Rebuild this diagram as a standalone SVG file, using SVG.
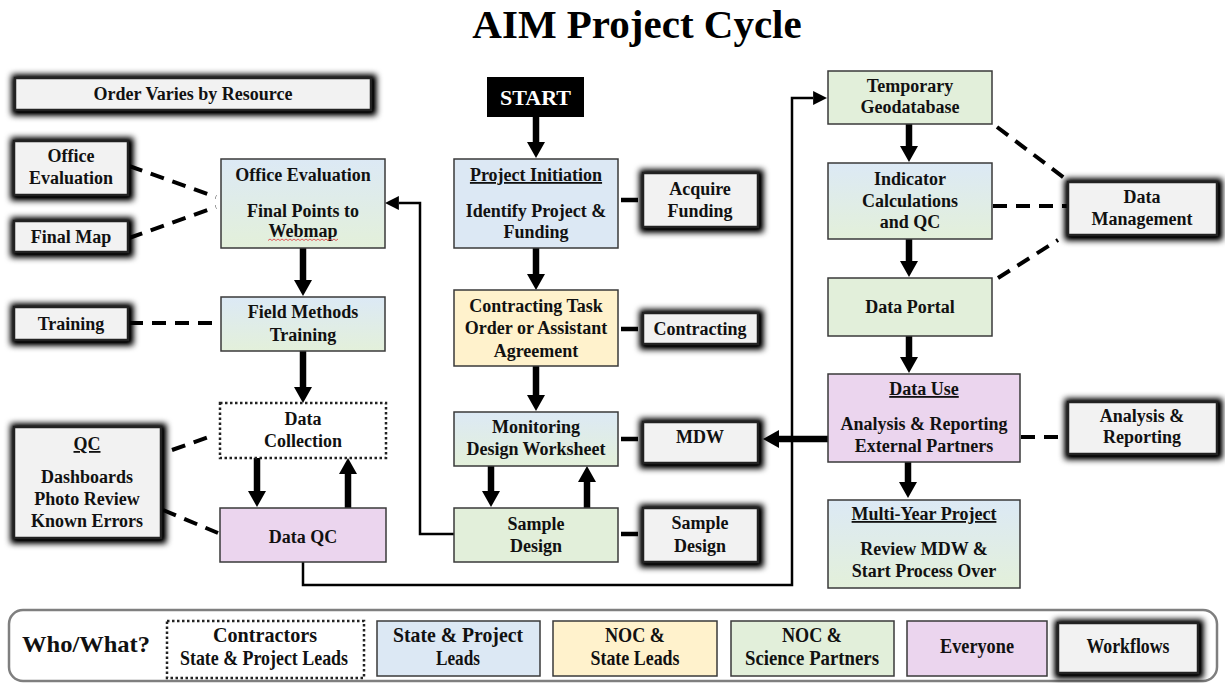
<svg xmlns="http://www.w3.org/2000/svg" width="1225" height="683" viewBox="0 0 1225 683">
<defs>
<linearGradient id="bg" x1="0" y1="0" x2="0" y2="1">
<stop offset="0" stop-color="#dce9f5"/>
<stop offset="1" stop-color="#e3f0da"/>
</linearGradient>
<filter id="glow" x="-30%" y="-40%" width="160%" height="180%">
<feMorphology in="SourceAlpha" operator="dilate" radius="2.5" result="d"/>
<feGaussianBlur in="d" stdDeviation="3"/>
<feOffset dx="1" dy="1" result="b"/>
<feComponentTransfer><feFuncA type="linear" slope="1.2"/></feComponentTransfer>
<feMerge><feMergeNode/><feMergeNode in="SourceGraphic"/></feMerge>
</filter>
<marker id="ah" markerUnits="userSpaceOnUse" markerWidth="16" markerHeight="18" refX="0" refY="9" orient="auto">
<path d="M0,0 L16,9 L0,18 z" fill="#000"/>
</marker>
<marker id="ahs" markerUnits="userSpaceOnUse" markerWidth="14" markerHeight="14" refX="0" refY="7" orient="auto">
<path d="M0,0 L14,7 L0,14 z" fill="#000"/>
</marker>
<style>
text{font-family:"Liberation Serif","Times New Roman",serif;font-weight:bold;fill:#111;text-anchor:middle;font-size:18px}
.title{font-size:41px;fill:#000}
.u{text-decoration:underline}
.box{stroke:#3a3a3a;stroke-width:1.5}
.blue{fill:#dce8f4}
.grad{fill:url(#bg)}
.yel{fill:#fff2cc}
.grn{fill:#e2efda}
.pur{fill:#ebd5ee}
.dot{fill:#fff;stroke:#222;stroke-width:2.5;stroke-dasharray:2.5 2.5}
.wf{fill:#f2f2f2;stroke:#222;stroke-width:2.5;filter:url(#glow)}
.thick{stroke:#000;stroke-width:6.5;fill:none;marker-end:url(#ah)}
.thin{stroke:#000;stroke-width:2.5;fill:none;marker-end:url(#ahs)}
.thinl{stroke:#000;stroke-width:2.5;fill:none}
.dash{stroke:#000;stroke-width:4;stroke-dasharray:14 9;fill:none}
.solid{stroke:#000;stroke-width:4.5;fill:none}
.leg{font-size:21px}
</style>
</defs>
<rect width="1225" height="683" fill="#fff"/>
<text class="title" x="637" y="38">AIM Project Cycle</text>

<g id="connectors">
<path class="thinl" d="M303,562 V585 H792 V98 H813"/>
<path class="thin" d="M813,98 H813.1"/>
<path class="thinl" d="M454,534 H420 V203 H399"/>
<path class="thin" d="M399,203 H398.9"/>
<line class="thick" x1="536" y1="117" x2="536" y2="142"/>
<line class="thick" x1="536" y1="248" x2="536" y2="274"/>
<line class="thick" x1="536" y1="366" x2="536" y2="395"/>
<line class="thick" x1="491" y1="466" x2="491" y2="491"/>
<line class="thick" x1="587" y1="508" x2="587" y2="482"/>
<line class="thick" x1="303" y1="248" x2="303" y2="280"/>
<line class="thick" x1="303" y1="351" x2="303" y2="387"/>
<line class="thick" x1="257" y1="458" x2="257" y2="491"/>
<line class="thick" x1="348" y1="508" x2="348" y2="474"/>
<line class="thick" x1="909" y1="124" x2="909" y2="146"/>
<line class="thick" x1="909" y1="239" x2="909" y2="261"/>
<line class="thick" x1="909" y1="336" x2="909" y2="357"/>
<line class="thick" x1="908" y1="462" x2="908" y2="482"/>
<line class="thick" x1="828" y1="439" x2="779" y2="439"/>
<line class="dash" x1="129" y1="166" x2="216" y2="197"/>
<line class="dash" x1="129" y1="238" x2="216" y2="207"/>
<line class="dash" x1="129" y1="323" x2="220" y2="323"/>
<line class="dash" x1="172" y1="450" x2="214" y2="435"/>
<line class="dash" x1="163" y1="510" x2="218" y2="533"/>
<line class="dash" x1="997" y1="127" x2="1067" y2="180"/>
<line class="dash" x1="993" y1="206" x2="1067" y2="206"/>
<line class="dash" x1="998" y1="278" x2="1058" y2="240"/>
<line class="dash" x1="1021" y1="437" x2="1067" y2="437"/>
<line class="solid" x1="621" y1="200" x2="638" y2="200"/>
<line class="solid" x1="621" y1="329" x2="638" y2="329"/>
<line class="solid" x1="621" y1="439" x2="638" y2="439"/>
<line class="solid" x1="621" y1="534" x2="638" y2="534"/>
</g>

<g id="order-varies"><rect class="wf" x="15" y="78" width="356" height="32"/><text x="193" y="100">Order Varies by Resource</text></g>
<g id="wf-office-evaluation"><rect class="wf" x="14" y="141" width="114" height="54"/><text x="71" y="162">Office</text><text x="71" y="184">Evaluation</text></g>
<g id="wf-final-map"><rect class="wf" x="14" y="221" width="114" height="31"/><text x="71" y="243">Final Map</text></g>
<g id="wf-training"><rect class="wf" x="14" y="307" width="114" height="33"/><text x="71" y="330">Training</text></g>
<g id="wf-qc"><rect class="wf" x="14" y="427" width="147" height="111"/><text class="u" x="87" y="450">QC</text><text x="87" y="483">Dashboards</text><text x="87" y="505">Photo Review</text><text x="87" y="527">Known Errors</text></g>
<g id="wf-acquire-funding"><rect class="wf" x="643" y="173" width="115" height="54"/><text x="700" y="195">Acquire</text><text x="700" y="217">Funding</text></g>
<g id="wf-contracting"><rect class="wf" x="643" y="313" width="115" height="31"/><text x="700" y="335">Contracting</text></g>
<g id="wf-mdw"><rect class="wf" x="643" y="422" width="115" height="41"/><text x="700" y="443">MDW</text></g>
<g id="wf-sample-design"><rect class="wf" x="643" y="508" width="115" height="54"/><text x="700" y="529">Sample</text><text x="700" y="552">Design</text></g>
<g id="wf-data-management"><rect class="wf" x="1068" y="182" width="149" height="53"/><text x="1142" y="203">Data</text><text x="1142" y="225">Management</text></g>
<g id="wf-analysis-reporting"><rect class="wf" x="1068" y="402" width="149" height="52"/><text x="1142" y="422">Analysis &amp;</text><text x="1142" y="443">Reporting</text></g>

<g id="start"><rect x="487" y="77" width="97" height="40" fill="#000"/><text x="535.5" y="105" style="fill:#fff;font-size:22px">START</text></g>
<g id="office-evaluation"><rect class="box grad" x="221" y="159" width="164" height="89"/><text x="303" y="181">Office Evaluation</text><text x="303" y="217">Final Points to</text><text x="303" y="237">Webmap</text><path d="M268,240.5 l2,-1.5 l2,1.5 l2,-1.5 l2,1.5 l2,-1.5 l2,1.5 l2,-1.5 l2,1.5 l2,-1.5 l2,1.5 l2,-1.5 l2,1.5 l2,-1.5 l2,1.5 l2,-1.5 l2,1.5 l2,-1.5 l2,1.5 l2,-1.5 l2,1.5 l2,-1.5 l2,1.5 l2,-1.5 l2,1.5 l2,-1.5 l2,1.5 l2,-1.5 l2,1.5 l2,-1.5 l2,1.5 l2,-1.5 l2,1.5 l2,-1.5 l2,1.5 l2,-1.5" fill="none" stroke="#e04848" stroke-width="0.9"/></g>
<g id="field-methods"><rect class="box grad" x="221" y="297" width="164" height="54"/><text x="303" y="318">Field Methods</text><text x="303" y="341">Training</text></g>
<g id="data-collection"><rect class="dot" x="220" y="403" width="166" height="55"/><text x="303" y="425">Data</text><text x="303" y="447">Collection</text></g>
<g id="data-qc"><rect class="box pur" x="220" y="508" width="166" height="54"/><text x="303" y="543">Data QC</text></g>
<g id="project-initiation"><rect class="box blue" x="454" y="159" width="164" height="89"/><text class="u" x="536" y="181">Project Initiation</text><text x="536" y="217">Identify Project &amp;</text><text x="536" y="238">Funding</text></g>
<g id="contracting-task"><rect class="box yel" x="454" y="290" width="164" height="76"/><text x="536" y="312">Contracting Task</text><text x="536" y="334">Order or Assistant</text><text x="536" y="357">Agreement</text></g>
<g id="monitoring-design"><rect class="box grad" x="454" y="412" width="164" height="54"/><text x="536" y="433">Monitoring</text><text x="536" y="455">Design Worksheet</text></g>
<g id="sample-design"><rect class="box grn" x="454" y="508" width="164" height="54"/><text x="536" y="530">Sample</text><text x="536" y="552">Design</text></g>
<g id="temporary-geodatabase"><rect class="box grn" x="828" y="71" width="164" height="53"/><text x="910" y="92">Temporary</text><text x="910" y="113">Geodatabase</text></g>
<g id="indicator-calculations"><rect class="box grad" x="828" y="163" width="164" height="76"/><text x="910" y="185">Indicator</text><text x="910" y="207">Calculations</text><text x="910" y="228">and QC</text></g>
<g id="data-portal"><rect class="box grn" x="828" y="278" width="164" height="58"/><text x="910" y="313">Data Portal</text></g>
<g id="data-use"><rect class="box pur" x="828" y="374" width="192" height="88"/><text class="u" x="924" y="395">Data Use</text><text x="924" y="430">Analysis &amp; Reporting</text><text x="924" y="452">External Partners</text></g>
<g id="multi-year"><rect class="box grad" x="828" y="500" width="192" height="88"/><text class="u" x="924" y="520">Multi-Year Project</text><text x="924" y="555">Review MDW &amp;</text><text x="924" y="577">Start Process Over</text></g>

<g id="legend">
<rect x="9" y="610" width="1208" height="71" rx="14" fill="#fff" stroke="#7f7f7f" stroke-width="2.5"/>
<text x="86" y="652" style="font-size:24px" textLength="128" lengthAdjust="spacingAndGlyphs">Who/What?</text>
<rect class="dot" x="167" y="621" width="197" height="57"/>
<text class="leg" x="265" y="642" textLength="104" lengthAdjust="spacingAndGlyphs">Contractors</text>
<text class="leg" x="264" y="665" textLength="168" lengthAdjust="spacingAndGlyphs">State &amp; Project Leads</text>
<rect class="box blue" x="377" y="621" width="163" height="55"/>
<text class="leg" x="458" y="642" textLength="130" lengthAdjust="spacingAndGlyphs">State &amp; Project</text>
<text class="leg" x="458" y="665" textLength="44" lengthAdjust="spacingAndGlyphs">Leads</text>
<rect class="box yel" x="553" y="621" width="164" height="55"/>
<text class="leg" x="635" y="642" textLength="60" lengthAdjust="spacingAndGlyphs">NOC &amp;</text>
<text class="leg" x="635" y="665" textLength="89" lengthAdjust="spacingAndGlyphs">State Leads</text>
<rect class="box grn" x="731" y="621" width="163" height="55"/>
<text class="leg" x="812" y="642" textLength="60" lengthAdjust="spacingAndGlyphs">NOC &amp;</text>
<text class="leg" x="812" y="665" textLength="134" lengthAdjust="spacingAndGlyphs">Science Partners</text>
<rect class="box pur" x="907" y="621" width="140" height="55"/>
<text class="leg" x="977" y="653" textLength="74" lengthAdjust="spacingAndGlyphs">Everyone</text>
<rect class="wf" x="1058" y="623" width="140" height="50"/>
<text class="leg" x="1128" y="653" textLength="83" lengthAdjust="spacingAndGlyphs">Workflows</text>
</g>
</svg>
